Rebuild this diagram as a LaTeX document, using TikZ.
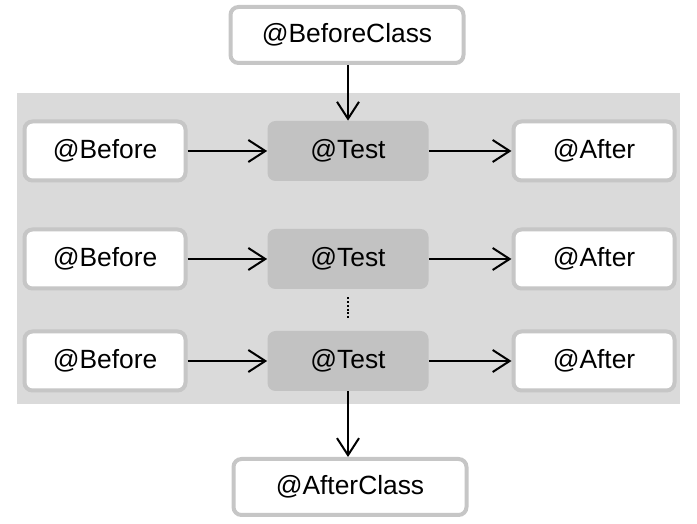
\documentclass[tikz,border=0pt]{standalone}
\usepackage{fontspec}
\setmainfont{Liberation Sans}
\usetikzlibrary{arrows.meta,positioning,calc}
\definecolor{bggray}{HTML}{DADADA}
\definecolor{testgray}{HTML}{C2C2C2}
\definecolor{edgegray}{HTML}{C6C6C6}
\begin{document}
\begin{tikzpicture}[>={Straight Barb[length=3.4mm,width=4.4mm]},font=\fontsize{15}{18}\selectfont,
 hook/.style={draw=edgegray,line width=0.08cm,fill=white,rounded corners=0.16cm,minimum width=3.22cm,minimum height=1.18cm},
 classhook/.style={hook,minimum width=4.66cm,minimum height=1.12cm},
 testbox/.style={fill=testgray,rounded corners=0.16cm,minimum width=3.22cm,minimum height=1.2cm},
 flow/.style={->,line width=0.04cm}]
\useasboundingbox (0,0) rectangle (13.94,10.48);
\fill[bggray] (0.34,2.40) rectangle (13.60,8.62);
\node[classhook] (bc) at (6.94,9.78) {@BeforeClass};
\foreach \r/\y in {1/7.46,2/5.30,3/3.26}{
 \node[hook] (bef\r) at (2.10,\y) {@Before};
 \node[testbox] (test\r) at (6.96,\y) {@Test};
 \node[hook] (aft\r) at (11.88,\y) {@After};
 \draw[flow] (bef\r) -- (test\r);
 \draw[flow] (test\r) -- (aft\r);
}
\node[classhook] (ac) at (7.00,0.74) {@AfterClass};
\draw[flow] (bc.south -| test1.north) -- (test1.north);
\draw[flow] (test3.south) -- (test3.south |- ac.north);
% dots between the last two rows
\draw[line width=0.04cm,densely dotted] ($(test2.south)+(0,-0.16)$) -- ($(test3.north)+(0,0.22)$);
\end{tikzpicture}
\end{document}
